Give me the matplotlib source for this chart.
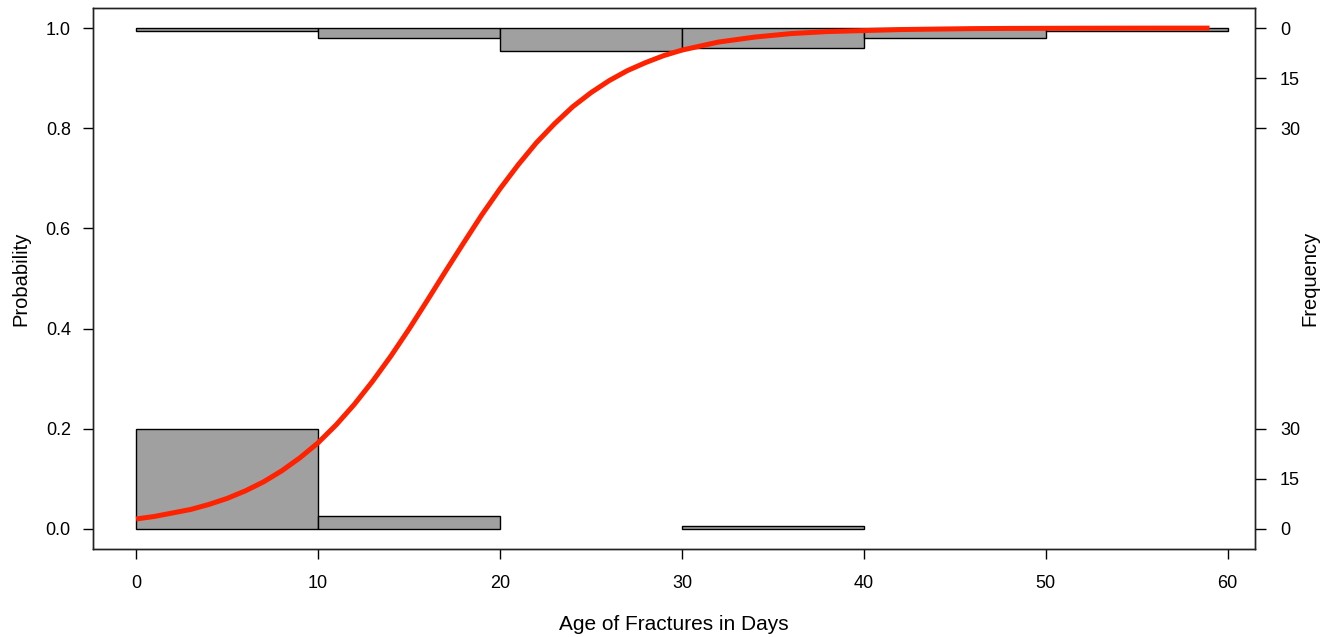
import matplotlib
matplotlib.use("Agg")
import matplotlib.pyplot as plt
import numpy as np

plt.rcParams['font.family'] = ['Liberation Sans', 'DejaVu Sans']

# Histogram bins (days)
bin_edges = [0, 10, 20, 30, 40, 50, 60]
# counts of cases with outcome 0 (bottom histogram)
counts_zero = [30, 4, 0, 1, 0, 0]
# counts of cases with outcome 1 (top histogram)
counts_one = [1, 3, 7, 6, 3, 1]

# Fitted probability curve
curve_x = [0, 1, 2, 3, 4, 5, 6, 7, 8, 9, 10, 11, 12, 13, 14, 15, 16, 17,
           18, 19, 20, 21, 22, 23, 24, 25, 26, 27, 28, 29, 30, 32, 34, 36,
           38, 40, 42, 44, 46, 48, 50, 52, 54, 56, 58, 59]
curve_p = [0.020, 0.025, 0.032, 0.039, 0.049, 0.061, 0.076, 0.094, 0.116,
           0.142, 0.172, 0.208, 0.249, 0.295, 0.345, 0.399, 0.456, 0.514,
           0.571, 0.627, 0.679, 0.727, 0.771, 0.809, 0.843, 0.871, 0.895,
           0.915, 0.931, 0.945, 0.956, 0.972, 0.982, 0.989, 0.993, 0.995,
           0.997, 0.998, 0.9989, 0.9993, 0.9995, 0.9997, 0.9998, 0.9999,
           0.9999, 0.9999]

x_ticks = [0, 10, 20, 30, 40, 50, 60]
y_ticks = [0.0, 0.2, 0.4, 0.6, 0.8, 1.0]
freq_labels = [0, 15, 30]

max_count = 30
hist_scale = 0.2  # a bar of max_count reaches 0.2 probability units

fig = plt.figure(figsize=(13.32, 6.37), dpi=100)
ax = fig.add_axes([0.0698, 0.1381, 0.8724, 0.8493])

bar_color = '#a0a0a0'
for i in range(len(counts_zero)):
    left = bin_edges[i]
    w = bin_edges[i + 1] - bin_edges[i]
    c0 = counts_zero[i]
    if c0 > 0:
        h = c0 / max_count * hist_scale
        ax.bar(left, h, width=w, bottom=0, align='edge', color=bar_color,
               edgecolor='black', linewidth=1.0, zorder=2)
    c1 = counts_one[i]
    if c1 > 0:
        h = c1 / max_count * hist_scale
        ax.bar(left, h, width=w, bottom=1 - h, align='edge', color=bar_color,
               edgecolor='black', linewidth=1.0, zorder=2)

ax.plot(curve_x, curve_p, color='#ff2200', linewidth=3.6, zorder=3,
        solid_capstyle='butt', solid_joinstyle='round')

ax.set_xlim(-2.37, 61.5)
ax.set_ylim(-0.04, 1.04)
ax.set_xticks(x_ticks)
ax.set_xticklabels([str(v) for v in x_ticks])
ax.set_yticks(y_ticks)
ax.set_yticklabels([f"{v:.1f}" for v in y_ticks])
ax.tick_params(axis='x', length=7, width=1, pad=12, labelsize=13)
ax.tick_params(axis='y', length=7, width=1, pad=9, labelsize=13)
for s in ax.spines.values():
    s.set_linewidth(1.0)
    s.set_color('#222222')

ax.set_xlabel("Age of Fractures in Days", fontsize=15, labelpad=16)
ax.set_ylabel("Probability", fontsize=14.5, labelpad=11)

ax2 = ax.twinx()
ax2.set_ylim(ax.get_ylim())
pos = [v / max_count * hist_scale for v in freq_labels]
r_ticks = pos + [1 - p for p in pos]
r_labels = [str(v) for v in freq_labels] * 2
ax2.set_yticks(r_ticks)
ax2.set_yticklabels(r_labels)
ax2.tick_params(axis='y', length=8, width=1, pad=10, labelsize=13)
for s in ax2.spines.values():
    s.set_linewidth(1.0)
    s.set_color('#222222')
ax2.set_ylabel("Frequency", fontsize=14.5, rotation=90, labelpad=0)

fig.savefig("out.png", dpi=100)
